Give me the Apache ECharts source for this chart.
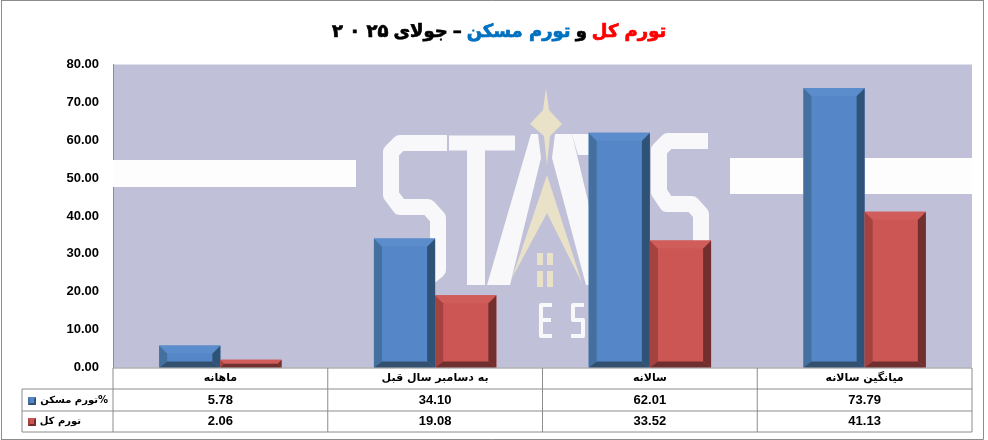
<!DOCTYPE html>
<html>
<head>
<meta charset="utf-8">
<script src="https://cdn.jsdelivr.net/npm/echarts@6/dist/echarts.min.js"></script>
<style>
html, body { margin: 0; padding: 0; background: #fff; }
#chart { width: 988px; height: 440px; }
</style>
</head>
<body>
<div id="chart"></div>
<script>
var categories = ['ماهانه', 'به دسامبر سال قبل', 'سالانه', 'میانگین سالانه'];
var housing = [5.78, 34.10, 62.01, 73.79];
var general = [2.06, 19.08, 33.52, 41.13];
var housingName = 'تورم مسکن%';
var generalName = 'تورم کل';

var blue = { face: '#5587c8', top: '#5b8ccc', left: '#44709f', right: '#2f5277', bottom: '#33506f' };
var red = { face: '#cb5653', top: '#d05d5a', left: '#a54240', right: '#732f2e', bottom: '#6e2f2e' };

var plot = { left: 113, right: 972, top: 64.6, bottom: 367.5 };
var rows = [368, 389, 411, 432];
var fontBody = '"DejaVu Sans", "Noto Sans", sans-serif';
var fontNum = '"Liberation Sans", sans-serif';
var wmWhite = '#f8f8fb';
var wmGold = '#e9e2c8';

// bevelled bar, offset 0 = left of the pair, 1 = right of the pair
function bevelBar(colors, offset) {
	return function (params, api) {
		var base = api.coord([api.value(0), 0]);
		var top = api.coord([api.value(0), api.value(1)]);
		var band = api.size([1, 0])[0];
		var w = band * 0.285;
		var x0 = base[0] - w + offset * w;
		var x1 = x0 + w;
		var y0 = top[1];
		var y1 = base[1];
		var b = Math.min(8, (y1 - y0) / 2);
		var bb = Math.min(6, (y1 - y0) / 2);
		function poly(points, fill) {
			return { type: 'polygon', shape: { points: points }, style: { fill: fill } };
		}
		return {
			type: 'group',
			children: [
				poly([[x0, y0], [x1, y0], [x1, y1], [x0, y1]], colors.face),
				poly([[x0, y0], [x0 + b, y0 + b], [x0 + b, y1 - bb], [x0, y1]], colors.left),
				poly([[x1, y0], [x1 - b, y0 + b], [x1 - b, y1 - bb], [x1, y1]], colors.right),
				poly([[x0, y1], [x0 + b, y1 - bb], [x1 - b, y1 - bb], [x1, y1]], colors.bottom),
				poly([[x0, y0], [x1, y0], [x1 - b, y0 + b], [x0 + b, y0 + b]], colors.top)
			]
		};
	};
}

function barSeries(name, values, colors, offset) {
	return {
		name: name,
		type: 'custom',
		z: 5,
		renderItem: bevelBar(colors, offset),
		encode: { x: 0, y: 1 },
		data: values.map(function (v, i) { return [i, v]; })
	};
}

function line(x1, y1, x2, y2, color) {
	return {
		type: 'line', silent: true, z: 8,
		shape: { x1: x1, y1: y1, x2: x2, y2: y2 },
		style: { stroke: color || '#8c8c8c', lineWidth: 1 }
	};
}

function cellText(text, x, y, font, align) {
	return {
		type: 'text', silent: true, z: 9, x: x, y: y,
		style: { text: text, fill: '#000', align: align || 'center', verticalAlign: 'middle', font: font }
	};
}

function wmPoly(points, fill) {
	return { type: 'polygon', silent: true, z: 1, shape: { points: points }, style: { fill: fill } };
}

function wmLine(points, width) {
	return {
		type: 'polyline', silent: true, z: 1, shape: { points: points },
		style: { stroke: wmWhite, fill: 'none', lineWidth: width, lineJoin: 'round' }
	};
}

// watermark behind the bars
var watermark = [
	wmPoly([[113, 160], [356, 160], [356, 187], [113, 187]], '#fdfdfe'),
	wmPoly([[730, 158], [972, 158], [972, 194], [730, 194]], '#fdfdfe'),
	// S
	wmLine([[447, 143], [400, 143], [391, 152], [391, 195], [400, 207], [428, 207], [438, 218], [438, 270], [428, 278], [380, 278]], 16),
	// T
	wmLine([[449, 143], [515, 143]], 15),
	wmLine([[476, 143], [476, 285]], 18),
	// A
	wmPoly([[531, 134], [538, 134], [541, 158], [510, 285], [487, 285]], wmWhite),
	wmPoly([[555, 134], [572, 134], [608, 285], [586, 285], [552, 158]], wmWhite),
	wmPoly([[572, 134], [590, 134], [590, 155], [578, 155]], wmWhite),
	wmPoly([[546, 88], [549, 110], [562, 124], [550, 136], [547, 165], [544, 136], [530, 124], [543, 110]], wmGold),
	wmPoly([[547, 175], [582, 283], [547, 213], [512, 278]], wmGold),
	wmPoly([[537, 253], [543, 253], [543, 265], [537, 265]], wmGold),
	wmPoly([[547, 253], [553, 253], [553, 265], [547, 265]], wmGold),
	wmPoly([[537, 271], [543, 271], [543, 287], [537, 287]], wmGold),
	wmPoly([[547, 271], [553, 271], [553, 287], [547, 287]], wmGold),
	// second S
	wmLine([[708, 141], [668, 141], [659, 150], [659, 192], [667, 204], [692, 204], [701, 214], [701, 285]], 16),
	// E S
	wmLine([[552, 305], [541, 305], [541, 336], [552, 336]], 4),
	wmLine([[541, 320], [551, 320]], 4),
	wmLine([[584, 305], [573, 305], [573, 320], [583, 320], [583, 336], [571, 336]], 4)
];

// data table under the plot
var colW = (plot.right - plot.left) / categories.length;
var labelFont = 'bold 11px ' + fontBody;
var numFont = 'bold 13px ' + fontNum;
var table = [
	line(plot.left, rows[0], plot.right, rows[0]),
	line(22, rows[1], plot.right, rows[1]),
	line(22, rows[2], plot.right, rows[2]),
	line(22, rows[3], plot.right, rows[3]),
	line(22, rows[1], 22, rows[3]),
	cellText(housingName, 108, (rows[1] + rows[2]) / 2, 'bold 10px ' + fontBody, 'right'),
	cellText(generalName, 81, (rows[2] + rows[3]) / 2, 'bold 10px ' + fontBody, 'right')
];
categories.forEach(function (c, i) {
	var cx = plot.left + colW * (i + 0.5);
	table.push(line(plot.left + colW * i, rows[0], plot.left + colW * i, rows[3]));
	table.push(cellText(c, cx, (rows[0] + rows[1]) / 2, labelFont));
	table.push(cellText(housing[i].toFixed(2), cx, (rows[1] + rows[2]) / 2, numFont));
	table.push(cellText(general[i].toFixed(2), cx, (rows[2] + rows[3]) / 2, numFont));
});
table.push(line(plot.right, rows[0], plot.right, rows[3]));

function legendKey(x, y, colors) {
	var s = 8, b = 2;
	function p(points, fill) { return { type: 'polygon', silent: true, z: 9, shape: { points: points }, style: { fill: fill } }; }
	return [
		p([[x, y], [x + s, y], [x + s, y + s], [x, y + s]], colors.face),
		p([[x, y], [x + b, y + b], [x + b, y + s - b], [x, y + s]], colors.left),
		p([[x + s, y], [x + s - b, y + b], [x + s - b, y + s - b], [x + s, y + s]], colors.right),
		p([[x, y + s], [x + b, y + s - b], [x + s - b, y + s - b], [x + s, y + s]], colors.bottom)
	];
}

var frame = [
	line(1, 0.5, 983.5, 0.5),
	line(1.5, 0, 1.5, 439.5),
	line(983.5, 0, 983.5, 439.5),
	line(1, 439.5, 983.5, 439.5)
];

function titleStyle(color) {
	return { color: color, fontSize: 18, fontWeight: 'bold', fontFamily: fontBody, textBorderColor: color, textBorderWidth: 0.7 };
}

var chart = echarts.init(document.getElementById('chart'));
chart.setOption({
	animation: false,
	backgroundColor: '#fff',
	title: {
		left: 327,
		top: 18,
		text: '{k|۲ ۰ ۲۵} {k|جولای} {k|–} {b|تورم مسکن} {k|و} {r|تورم کل}',
		textStyle: {
			rich: {
				k: titleStyle('#000'),
				b: titleStyle('#0070c0'),
				r: titleStyle('#ff0000')
			}
		}
	},
	grid: {
		left: plot.left,
		top: plot.top,
		width: plot.right - plot.left,
		height: plot.bottom - plot.top,
		show: true,
		backgroundColor: '#c0c1d8',
		borderWidth: 0
	},
	xAxis: {
		type: 'category',
		data: categories,
		axisLabel: { show: false },
		axisTick: { show: false },
		axisLine: { show: false }
	},
	yAxis: {
		type: 'value',
		min: 0,
		max: 80,
		interval: 10,
		axisLabel: {
			margin: 14,
			formatter: function (v) { return v.toFixed(2); },
			color: '#000',
			fontSize: 13,
			fontWeight: 'bold',
			fontFamily: fontNum
		},
		axisTick: { show: false },
		axisLine: { show: true, lineStyle: { color: '#8c8c8c' } },
		splitLine: { show: false }
	},
	series: [
		barSeries(housingName, housing, blue, 0),
		barSeries(generalName, general, red, 1)
	],
	graphic: {
		elements: frame.concat(watermark, table,
			legendKey(28, 397, blue), legendKey(28, 418, red))
	}
});
</script>
</body>
</html>
